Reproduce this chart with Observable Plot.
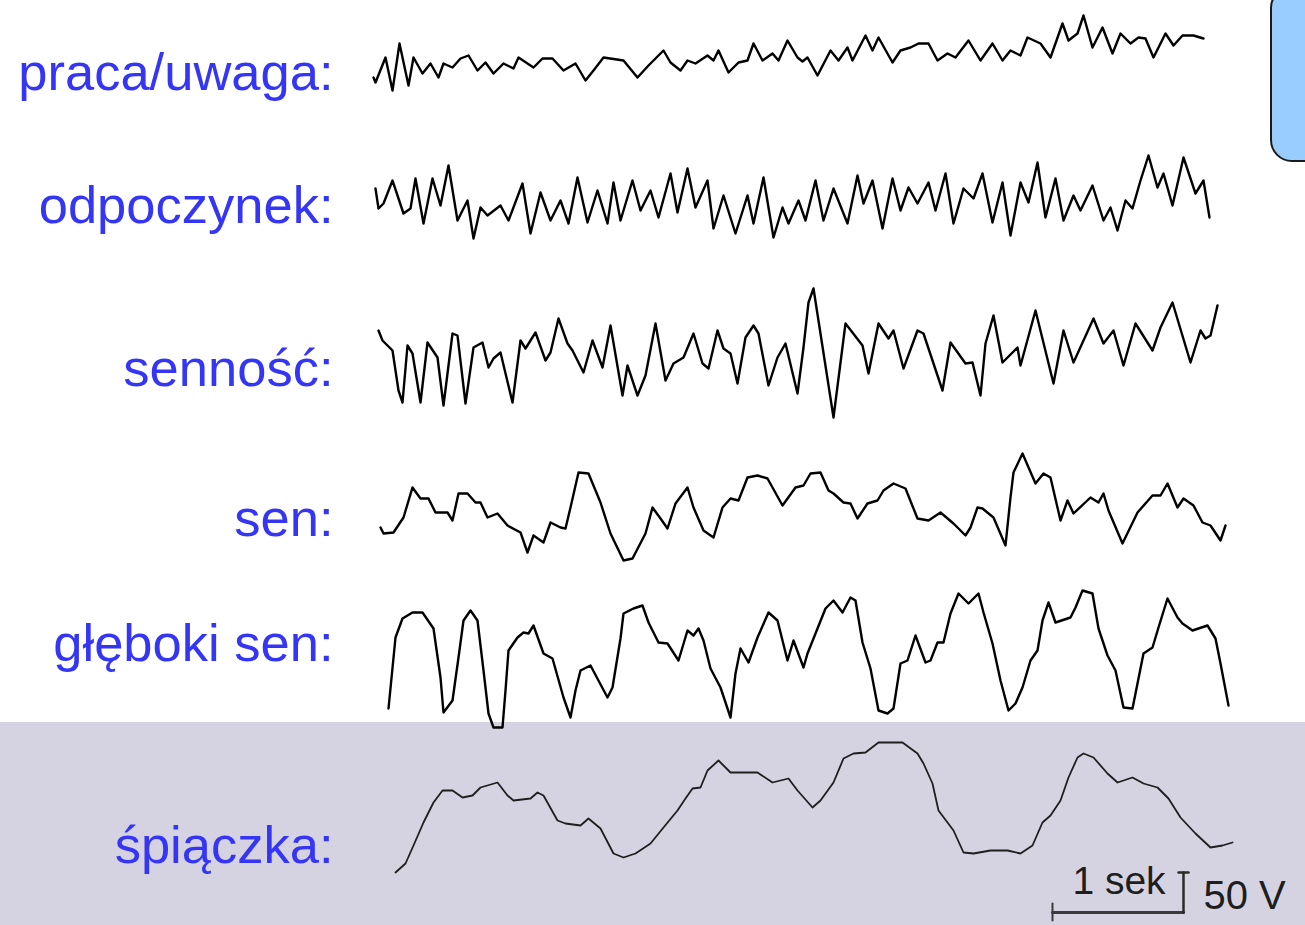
<!DOCTYPE html>
<html><head><meta charset="utf-8">
<script src="https://cdn.jsdelivr.net/npm/d3@7"></script>
<script src="https://cdn.jsdelivr.net/npm/@observablehq/plot@0.6"></script>
<style>
html,body{margin:0;padding:0;background:#fff;overflow:hidden;}
#wrap{position:relative;width:1305px;height:925px;overflow:hidden;}
#band{position:absolute;left:0;top:722px;width:1305px;height:203px;background:#d5d3e2;}
#tab{position:absolute;left:1270px;top:-14px;width:60px;height:176px;background:#99ccff;border:2px solid #1a1a1a;border-radius:22px;box-sizing:border-box;}
#chart{position:absolute;left:0;top:0;}
</style></head><body><div id="wrap"><div id="band"></div><div id="chart"></div><div id="tab"></div></div>
<script>
// EEG traces: [sample index (fs = 133 Hz), amplitude in raw counts (1 count = 1.25 µV)]
const fs = 133;
const gainMicrovoltPerCount = 1.25;

const rowNames = ["praca/uwaga:", "odpoczynek:", "senność:", "sen:", "głęboki sen:", "śpiączka:"];
// montage offsets of each channel (counts)
const rowOffsets = [863, 725, 570, 415, 265, 120];
const labelShift = [-27, -22, -30, -25, 0, -57];

const pracaUwaga = [[3,-15],[5,-20],[15,5],[22,-28],[29,19],[38,-23],[43,5],[52,-11],[60,-1],[68,-15],[73,-1],[82,-5],[90,4],[98,7],[107,-8],[115,0],[123,-11],[133,-1],[143,-6],[148,5],[163,-5],[172,4],[182,4],[193,-8],[205,-1],[215,-18],[223,-8],[233,5],[253,2],[267,-15],[278,-3],[293,12],[300,0],[310,-8],[317,2],[325,-1],[337,7],[343,2],[348,12],[358,-10],[368,0],[377,2],[383,19],[392,2],[402,9],[408,2],[417,22],[427,5],[432,1],[437,5],[447,-13],[460,12],[468,2],[477,15],[482,2],[495,27],[502,12],[508,25],[522,0],[530,12],[540,15],[548,19],[558,19],[567,2],[577,9],[585,5],[598,22],[610,2],[622,19],[632,2],[640,12],[650,7],[657,25],[670,19],[680,5],[692,39],[698,22],[707,29],[713,47],[722,15],[732,35],[742,9],[750,29],[760,19],[768,25],[775,24],[783,5],[795,29],[803,17],[812,27],[823,27],[833,24]];

const odpoczynek = [[5,12],[8,-8],[13,-3],[22,20],[33,-13],[40,-8],[45,22],[53,-23],[62,22],[70,-5],[78,35],[87,-20],[97,0],[103,-38],[110,-7],[117,-15],[130,-5],[138,-20],[152,17],[160,-33],[170,8],[180,-20],[190,0],[198,-23],[207,23],[217,-22],[227,10],[237,-23],[243,18],[250,-20],[262,20],[270,-10],[280,10],[288,-17],[300,27],[307,-12],[317,32],[325,-7],[337,20],[343,-28],[353,5],[365,-33],[377,5],[383,-23],[393,23],[403,-37],[412,-7],[418,-23],[428,0],[435,-20],[445,20],[453,-20],[463,12],[477,-23],[487,25],[493,-3],[502,20],[512,-28],[522,22],[530,-10],[538,13],[547,-3],[558,18],[565,-10],[575,27],[583,-23],[593,12],[603,2],[612,27],[622,-22],[632,18],[640,-35],[650,18],[658,-2],[667,38],[675,-17],[685,22],[693,-20],[703,5],[710,-10],[722,15],[733,-20],[740,-7],[747,-30],[755,0],[762,-8],[770,20],[778,45],[787,13],[793,27],[802,-5],[813,43],[825,7],[833,20],[839,-17]];

const sennosc = [[8,25],[12,15],[22,5],[28,-35],[32,-47],[37,10],[42,2],[50,-47],[57,13],[67,-2],[73,-50],[82,22],[87,20],[95,-48],[103,8],[112,13],[118,-12],[123,-3],[130,3],[142,-47],[150,15],[155,7],[165,23],[175,-5],[180,3],[188,37],[197,12],[202,5],[213,-17],[222,15],[232,-12],[240,30],[252,-40],[257,-10],[267,-40],[275,-20],[285,32],[295,-25],[303,-8],[313,-2],[323,22],[332,-8],[338,-13],[347,25],[353,7],[360,2],[367,-28],[375,18],[383,30],[388,22],[398,-30],[407,-2],[415,12],[427,-38],[433,8],[438,53],[443,67],[463,-62],[475,32],[492,10],[498,-18],[508,32],[518,17],[523,25],[533,-13],[547,25],[553,22],[572,-35],[580,13],[595,-8],[602,-7],[610,-40],[615,12],[623,40],[632,-7],[647,8],[650,-10],[665,45],[683,-28],[693,25],[703,-7],[723,37],[733,12],[743,25],[753,-10],[765,32],[782,5],[790,28],[802,53],[820,-7],[830,25],[835,17],[840,20],[847,50]];

const sen = [[10,-17],[13,-23],[23,-22],[33,-7],[42,23],[50,12],[58,12],[65,-2],[77,-2],[82,-10],[88,17],[97,17],[105,8],[110,8],[117,-7],[127,-3],[137,-15],[150,-22],[157,-42],[163,-25],[173,-32],[180,-12],[190,-17],[195,-18],[200,3],[208,38],[218,37],[230,8],[240,-23],[253,-50],[262,-48],[275,-23],[282,3],[290,-8],[297,-18],[305,7],[317,23],[323,3],[333,-20],[343,-27],[352,3],[360,12],[368,10],[377,33],[387,35],[397,32],[412,5],[425,23],[433,25],[440,37],[450,38],[458,20],[463,17],[473,8],[480,7],[487,-8],[497,7],[507,10],[513,20],[523,27],[535,22],[547,-8],[558,-10],[570,-2],[583,-13],[595,-25],[600,-17],[607,3],[612,2],[623,-7],[635,-35],[640,13],[643,38],[652,57],[665,27],[673,37],[680,33],[690,-10],[697,10],[703,-3],[720,13],[728,8],[733,17],[738,0],[752,-33],[767,-2],[782,15],[790,15],[797,27],[807,3],[813,12],[823,5],[832,-12],[840,-15],[850,-30],[855,-15]];

const glebokiSen = [[18,-48],[25,23],[32,42],[42,48],[52,48],[63,32],[70,-17],[73,-52],[82,-40],[88,3],[93,40],[100,50],[107,40],[113,-10],[118,-53],[123,-67],[132,-67],[135,-30],[138,10],[147,23],[153,28],[158,27],[163,35],[173,7],[182,2],[193,-37],[200,-57],[205,-30],[210,-10],[220,-5],[237,-37],[242,-27],[250,22],[253,47],[263,52],[272,55],[278,38],[288,18],[297,17],[308,0],[317,30],[323,25],[328,32],[333,20],[340,-8],[350,-27],[360,-57],[365,-13],[370,12],[378,-2],[387,23],[398,48],[407,40],[417,0],[423,20],[433,-7],[437,7],[447,32],[455,52],[463,60],[472,48],[480,63],[485,60],[492,18],[500,-8],[508,-50],[517,-53],[523,-48],[530,-3],[537,0],[545,25],[555,-2],[560,0],[567,18],[573,18],[580,47],[588,67],[598,57],[608,67],[613,48],[622,17],[630,-20],[638,-50],[645,-43],[652,-27],[660,0],[667,10],[672,40],[678,58],[685,38],[700,43],[705,53],[712,70],[722,67],[728,32],[737,5],[745,-10],[753,-47],[762,-48],[767,-23],[773,7],[782,13],[788,33],[797,62],[807,43],[812,37],[822,30],[837,35],[845,22],[850,-3],[858,-45]];

const spiaczka = [[25,-67],[35,-58],[43,-40],[53,-17],[63,3],[72,15],[82,15],[92,8],[102,10],[110,18],[127,23],[137,10],[143,5],[160,7],[167,13],[173,10],[187,-15],[195,-18],[210,-20],[218,-13],[230,-23],[243,-48],[253,-52],[265,-48],[280,-38],[293,-22],[307,-5],[315,7],[322,17],[330,18],[337,35],[348,45],[360,33],[387,33],[402,23],[418,27],[427,15],[442,-2],[450,5],[463,23],[473,47],[483,52],[495,53],[508,63],[532,63],[547,52],[553,42],[562,22],[568,-5],[583,-25],[593,-47],[603,-48],[620,-45],[637,-45],[650,-48],[662,-40],[672,-17],[680,-10],[690,5],[698,28],[707,48],[713,52],[723,48],[737,32],[747,23],[762,28],[773,22],[787,18],[798,7],[810,-12],[825,-28],[840,-42],[852,-40],[862,-37]];

const traces = [pracaUwaga, odpoczynek, sennosc, sen, glebokiSen, spiaczka];

// calibration bar: 1 s and 50 µV
const calibSeconds = 1;
const calibMicrovolts = 50;
const calibStart = 682;   // sample index where the time bar starts
const calibLevel = 13;    // counts
const calibTexts = ["1 sek", "50 V"];

const labelT = -37;

const marks = [];
traces.forEach((tr, i) => {
  const off = rowOffsets[i];
  marks.push(Plot.line(tr, {
    x: d => d[0], y: d => off + d[1],
    stroke: i === 5 ? "#1e1e1e" : "#000",
    strokeWidth: i === 5 ? 1.8 : 2.4,
    strokeLinejoin: "round", strokeLinecap: "round"
  }));
});

const labelRows = rowNames.map((name, i) => ({name, y: rowOffsets[i] + labelShift[i]}));
marks.push(Plot.text(labelRows, {
  x: () => labelT, y: "y", text: "name",
  textAnchor: "end", lineAnchor: "bottom",
  fontSize: 52.5, fill: "#3535f6", fontFamily: "Liberation Sans, Arial, sans-serif",
  ariaLabel: "row-label"
}));

// calibration marks
const calibEnd = calibStart + calibSeconds * fs;
const calibTop = calibLevel + calibMicrovolts / gainMicrovoltPerCount;
const tV = calibEnd - 2;
marks.push(Plot.line([[calibStart, calibLevel], [tV, calibLevel]], {x: d => d[0], y: d => d[1], stroke: "#3a3a3a", strokeWidth: 3}));
marks.push(Plot.line([[calibStart, calibLevel - 8], [calibStart, calibLevel + 9]], {x: d => d[0], y: d => d[1], stroke: "#3a3a3a", strokeWidth: 2}));
marks.push(Plot.line([[tV, calibLevel], [tV, calibTop]], {x: d => d[0], y: d => d[1], stroke: "#2a2a2a", strokeWidth: 2.5}));
marks.push(Plot.line([[tV - 5, calibTop], [tV + 5, calibTop]], {x: d => d[0], y: d => d[1], stroke: "#2a2a2a", strokeWidth: 2.5}));
marks.push(Plot.text([calibTexts[0]], {
  x: () => (calibStart + calibEnd) / 2, y: () => calibLevel + 19, text: d => d,
  textAnchor: "middle", lineAnchor: "bottom", fontSize: 39, fill: "#1e1e1e",
  fontFamily: "Liberation Sans, Arial, sans-serif", ariaLabel: "calib-label"
}));
marks.push(Plot.text([calibTexts[1]], {
  x: () => tV + 20, y: () => calibLevel + 4, text: d => d,
  textAnchor: "start", lineAnchor: "bottom", fontSize: 40, fill: "#1e1e1e",
  fontFamily: "Liberation Sans Narrow, Liberation Sans, Arial, sans-serif", ariaLabel: "calib-label-v"
}));

const chart = Plot.plot({
  width: 1305, height: 925,
  marginTop: 0, marginRight: 0, marginBottom: 0, marginLeft: 0,
  x: {domain: [-370, 935], range: [0, 1305], axis: null},
  y: {domain: [0, 925], range: [925, 0], axis: null},
  style: {background: "transparent", overflow: "visible"},
  marks
});

function stretch(sel, sy) {
  d3.select(chart).selectAll(sel).each(function() {
    const t = this.getAttribute("transform");
    if (t) this.setAttribute("transform", t + ` scale(1,${sy})`);
    else {
      const x = +this.getAttribute("x") || 0, y = +this.getAttribute("y") || 0;
      this.setAttribute("transform", `translate(${x},${y}) scale(1,${sy}) translate(${-x},${-y})`);
    }
  });
}
stretch('g[aria-label="row-label"] text', 1.45);
stretch('g[aria-label="calib-label"] text', 1.1);
stretch('g[aria-label="calib-label-v"] text', 1.15);

document.getElementById("chart").appendChild(chart);
</script></body></html>
